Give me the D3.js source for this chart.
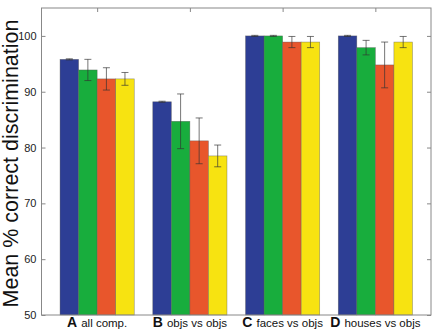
<!DOCTYPE html>
<html>
<head>
<meta charset="utf-8">
<script src="https://cdn.jsdelivr.net/npm/d3@7"></script>
<style>
  body { margin: 0; background: #fff; }
  text { font-family: "Liberation Sans", Arial, sans-serif; }
</style>
</head>
<body>
<div id="chart"></div>
<script>
var groupLetters = ["A", "B", "C", "D"];
var groupNames = ["all comp.", "objs vs objs", "faces vs objs", "houses vs objs"];
var seriesColors = ["#2d3e95", "#18ad3d", "#e8562c", "#f7e311"];
// values per group, one entry per series
var means = [
  [95.8, 93.9, 92.3, 92.3],
  [88.2, 84.7, 81.2, 78.5],
  [100, 100, 98.9, 98.9],
  [100, 97.9, 94.8, 98.9]
];
var errors = [
  [0.1, 1.9, 2.0, 1.15],
  [0.1, 4.9, 4.1, 1.95],
  [0.1, 0.1, 1.0, 1.0],
  [0.1, 1.3, 4.1, 1.0]
];
var yTicks = [50, 60, 70, 80, 90, 100];

var W = 436, H = 335;
var margin = {top: 8, right: 5, bottom: 20, left: 41.5};
var width = W - margin.left - margin.right,
    height = H - margin.top - margin.bottom;

var svg = d3.select("#chart").append("svg")
  .attr("width", W).attr("height", H);

var g = svg.append("g")
  .attr("transform", "translate(" + margin.left + "," + margin.top + ")");

// MATLAB-like bar axis: groups at 1..4, limits 0.4..4.6
var x = d3.scaleLinear().domain([0.4, 4.6]).range([0, width]);
var y = d3.scaleLinear().domain([50, 105]).range([height, 0]);

var groupW = 0.8, barW = groupW / 4;

var groups = g.selectAll("g.grp").data(means).enter().append("g").attr("class", "grp");

groups.each(function(vals, gi) {
  var sel = d3.select(this);
  vals.forEach(function(v, si) {
    var x0 = gi + 1 - groupW / 2 + si * barW;
    sel.append("rect")
      .attr("x", x(x0))
      .attr("width", x(x0 + barW) - x(x0))
      .attr("y", y(v))
      .attr("height", y(50) - y(v))
      .attr("fill", seriesColors[si])
      .attr("stroke", "#555")
      .attr("stroke-width", 0.6)
      .attr("stroke-opacity", 0.6);
    var cx = x(x0 + barW / 2), e = errors[gi][si];
    var cap = 3.5;
    var eb = sel.append("g").attr("stroke", "#333").attr("stroke-width", 0.9).attr("stroke-opacity", 0.75);
    eb.append("line").attr("x1", cx).attr("x2", cx).attr("y1", y(v - e)).attr("y2", y(v + e));
    eb.append("line").attr("x1", cx - cap).attr("x2", cx + cap).attr("y1", y(v - e)).attr("y2", y(v - e));
    eb.append("line").attr("x1", cx - cap).attr("x2", cx + cap).attr("y1", y(v + e)).attr("y2", y(v + e));
  });
});

// box
g.append("rect").attr("width", width).attr("height", height)
  .attr("fill", "none").attr("stroke", "#888").attr("stroke-width", 1);

// y axis
var yAxis = d3.axisLeft(y).tickValues(yTicks).tickSize(-4).tickPadding(5);
var ya = g.append("g").call(yAxis);
ya.select(".domain").remove();
ya.selectAll("line").attr("stroke", "#888");
ya.selectAll("text").attr("font-size", 11).attr("fill", "#222")
  .attr("font-family", "'Liberation Sans', Arial, sans-serif");

// right side ticks
var yr = g.append("g").attr("transform", "translate(" + width + ",0)")
  .call(d3.axisRight(y).tickValues(yTicks).tickSize(-4).tickFormat(""));
yr.select(".domain").remove();
yr.selectAll("line").attr("stroke", "#888");

// top ticks at group centers
var xt = g.append("g").call(d3.axisTop(x).tickValues([1, 2, 3, 4]).tickSize(-4).tickFormat(""));
xt.select(".domain").remove();
xt.selectAll("line").attr("stroke", "#888");

// category labels
var labels = g.selectAll("text.cat").data(groupLetters).enter().append("text")
  .attr("class", "cat")
  .attr("x", function(d, i) { return x(i + 1); })
  .attr("y", height + 12)
  .attr("text-anchor", "middle")
  .attr("fill", "#111");
labels.append("tspan").attr("font-weight", "bold").attr("font-size", 14).text(function(d) { return d; });
labels.append("tspan").attr("font-size", 11.5).attr("dx", 4).text(function(d, i) { return groupNames[i]; });

// y label
svg.append("text")
  .attr("transform", "translate(18," + (margin.top + height / 2 + 2) + ") rotate(-90)")
  .attr("text-anchor", "middle")
  .attr("font-size", 21.5)
  .attr("fill", "#111")
  .text("Mean % correct discrimination");
</script>
</body>
</html>
